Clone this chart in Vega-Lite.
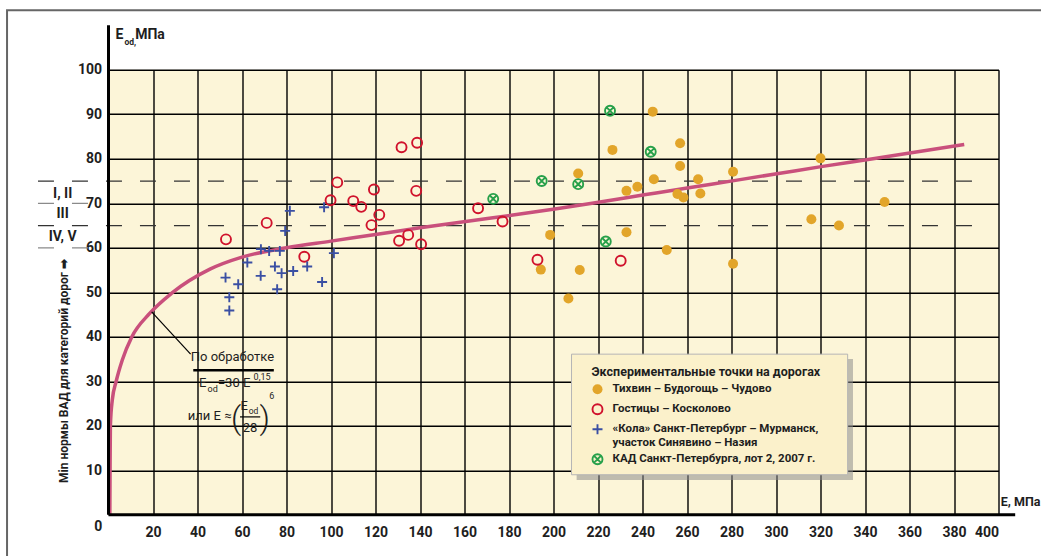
{
  "$schema": "https://vega.github.io/schema/vega-lite/v6.json",
  "width": 890,
  "height": 445,
  "autosize": {"type": "none"},
  "padding": {"left": 108.5, "top": 69.8, "right": 42.5, "bottom": 41.2},
  "background": "#ffffff",
  "config": {
    "view": {"fill": "#fcf5d8", "stroke": null},
    "font": "Roboto, Liberation Sans, sans-serif",
    "legend": {
      "orient": "none",
      "legendX": 483,
      "legendY": 296,
      "padding": 0,
      "titleFontSize": 12.5,
      "titleFontWeight": "bold",
      "titleColor": "#1e1e1e",
      "titlePadding": 5,
      "titleLimit": 500,
      "labelFontSize": 11.5,
      "labelFontWeight": "bold",
      "labelColor": "#1e1e1e",
      "labelOffset": 9,
      "labelLimit": 400,
      "rowPadding": 2,
      "symbolStrokeWidth": 1.9,
      "symbolSize": 100
    }
  },
  "layer": [
    {
      "data": {"values": [{}]},
      "mark": {"type": "rect", "fillOpacity": 0, "stroke": "#666666", "strokeWidth": 2},
      "encoding": {
        "x": {"datum": -45.6, "type": "quantitative", "scale": {"domain": [0, 400], "nice": false, "zero": false}},
        "x2": {"datum": 440},
        "y": {"datum": 113.4, "type": "quantitative", "scale": {"domain": [0, 100], "nice": false, "zero": false}},
        "y2": {"datum": -15}
      }
    },
    {
      "data": {"values": [{"v": 75}, {"v": 65}]},
      "mark": {"type": "rule", "color": "#333333", "strokeWidth": 1.3, "strokeDash": [16, 18]},
      "encoding": {
        "x": {"datum": -31.7, "type": "quantitative", "scale": {"domain": [0, 400], "nice": false, "zero": false}},
        "x2": {"datum": 396},
        "y": {"field": "v", "type": "quantitative", "scale": {"domain": [0, 100], "nice": false, "zero": false}}
      }
    },
    {
      "data": {"values": [{"v": 70}, {"v": 60}]},
      "mark": {"type": "rule", "color": "#8a8a8a", "strokeWidth": 1.3, "strokeDash": [16, 18]},
      "encoding": {
        "x": {"datum": -31.7, "type": "quantitative", "scale": {"domain": [0, 400], "nice": false, "zero": false}},
        "x2": {"datum": -8.5},
        "y": {"field": "v", "type": "quantitative", "scale": {"domain": [0, 100], "nice": false, "zero": false}}
      }
    },
    {
      "data": {"values": [
        {"E": 0.6, "V": 0}, {"E": 0.7, "V": 10}, {"E": 0.85, "V": 20}, {"E": 1.7, "V": 25.8},
        {"E": 3.4, "V": 29.9}, {"E": 6.2, "V": 34.8}, {"E": 10.4, "V": 39.9}, {"E": 18.6, "V": 45.3},
        {"E": 28.4, "V": 49.8}, {"E": 45.6, "V": 55.2}, {"E": 60, "V": 57.9},
        {"E": 80, "V": 60.0}, {"E": 100, "V": 61.5}, {"E": 120, "V": 63.0}, {"E": 140, "V": 64.5},
        {"E": 163, "V": 66.1}, {"E": 181, "V": 67.3}, {"E": 200.6, "V": 68.7}, {"E": 220.9, "V": 70.3},
        {"E": 240.8, "V": 71.9}, {"E": 260.8, "V": 73.5}, {"E": 281.1, "V": 75.1}, {"E": 301.1, "V": 76.7},
        {"E": 321, "V": 78.3}, {"E": 343.6, "V": 80.0}, {"E": 384.6, "V": 83.2}
      ]},
      "mark": {"type": "line", "color": "#c9507c", "strokeWidth": 3.5, "interpolate": "monotone"},
      "encoding": {
        "x": {"field": "E", "type": "quantitative", "scale": {"domain": [0, 400], "nice": false, "zero": false},
          "axis": {"values": [0, 20, 40, 60, 80, 100, 120, 140, 160, 180, 200, 220, 240, 260, 280, 300, 320, 340, 360, 380, 400],
            "labelExpr": "datum.value == 0 ? '' : datum.label", "grid": true, "gridColor": "#000000", "gridWidth": 1.4, "gridOpacity": 1,
            "domain": false, "ticks": false, "labelPadding": 11, "labelFontSize": 14, "labelFontWeight": "bold", "labelColor": "#1e1e1e", "title": null}},
        "y": {"field": "V", "type": "quantitative", "scale": {"domain": [0, 100], "nice": false, "zero": false},
          "axis": {"values": [0, 10, 20, 30, 40, 50, 60, 70, 80, 90, 100],
            "labelExpr": "datum.value == 0 ? '' : datum.label", "grid": true, "gridColor": "#000000", "gridWidth": 1.4, "gridOpacity": 1,
            "domain": false, "ticks": false, "labelPadding": 7, "labelFontSize": 14, "labelFontWeight": "bold", "labelColor": "#1e1e1e", "title": null}}
      }
    },
    {
      "data": {"values": [
        {"s": "T", "E": 244.6, "V": 90.6}, {"s": "T", "E": 226.5, "V": 82.0}, {"s": "T", "E": 256.9, "V": 83.5}, {"s": "T", "E": 256.9, "V": 78.4},
        {"s": "T", "E": 211.1, "V": 76.7}, {"s": "T", "E": 280.7, "V": 77.1}, {"s": "T", "E": 245.1, "V": 75.4}, {"s": "T", "E": 265.0, "V": 75.4},
        {"s": "T", "E": 237.7, "V": 73.7}, {"s": "T", "E": 232.8, "V": 72.8}, {"s": "T", "E": 255.7, "V": 72.1}, {"s": "T", "E": 258.4, "V": 71.3},
        {"s": "T", "E": 266.0, "V": 72.2}, {"s": "T", "E": 198.5, "V": 62.9}, {"s": "T", "E": 232.8, "V": 63.5}, {"s": "T", "E": 250.9, "V": 59.5},
        {"s": "T", "E": 194.3, "V": 55.1}, {"s": "T", "E": 211.8, "V": 55.0}, {"s": "T", "E": 206.7, "V": 48.6}, {"s": "T", "E": 280.7, "V": 56.4},
        {"s": "T", "E": 320.0, "V": 80.1}, {"s": "T", "E": 315.9, "V": 66.4}, {"s": "T", "E": 328.3, "V": 65.0}, {"s": "T", "E": 348.8, "V": 70.3},
        {"s": "G", "E": 52.8, "V": 61.9}, {"s": "G", "E": 71.1, "V": 65.6}, {"s": "G", "E": 88.0, "V": 58.0}, {"s": "G", "E": 99.8, "V": 70.7},
        {"s": "G", "E": 110.0, "V": 70.5}, {"s": "G", "E": 131.7, "V": 82.6}, {"s": "G", "E": 138.7, "V": 83.6}, {"s": "G", "E": 102.8, "V": 74.7},
        {"s": "G", "E": 119.3, "V": 73.1}, {"s": "G", "E": 138.3, "V": 72.8}, {"s": "G", "E": 113.6, "V": 69.2}, {"s": "G", "E": 121.7, "V": 67.4},
        {"s": "G", "E": 118.2, "V": 65.1}, {"s": "G", "E": 166.1, "V": 68.9}, {"s": "G", "E": 134.7, "V": 62.9}, {"s": "G", "E": 130.6, "V": 61.6},
        {"s": "G", "E": 140.5, "V": 60.8}, {"s": "G", "E": 177.1, "V": 65.9}, {"s": "G", "E": 192.8, "V": 57.3}, {"s": "G", "E": 230.2, "V": 57.1},
        {"s": "K", "E": 81.5, "V": 68.3}, {"s": "K", "E": 79.4, "V": 63.8}, {"s": "K", "E": 96.9, "V": 69.1}, {"s": "K", "E": 68.5, "V": 59.7},
        {"s": "K", "E": 72.2, "V": 59.3}, {"s": "K", "E": 77.0, "V": 59.3}, {"s": "K", "E": 101.3, "V": 58.8}, {"s": "K", "E": 62.4, "V": 56.7},
        {"s": "K", "E": 74.8, "V": 55.8}, {"s": "K", "E": 77.8, "V": 54.3}, {"s": "K", "E": 83.0, "V": 54.8}, {"s": "K", "E": 89.3, "V": 55.8},
        {"s": "K", "E": 52.6, "V": 53.3}, {"s": "K", "E": 68.4, "V": 53.7}, {"s": "K", "E": 58.3, "V": 51.8}, {"s": "K", "E": 96.0, "V": 52.3},
        {"s": "K", "E": 75.8, "V": 50.7}, {"s": "K", "E": 54.3, "V": 48.9}, {"s": "K", "E": 54.3, "V": 45.9},
        {"s": "D", "E": 225.4, "V": 90.8}, {"s": "D", "E": 243.7, "V": 81.6}, {"s": "D", "E": 194.7, "V": 75.0}, {"s": "D", "E": 211.1, "V": 74.3},
        {"s": "D", "E": 172.9, "V": 71.0}, {"s": "D", "E": 223.5, "V": 61.4}
      ]},
      "mark": {"type": "point", "size": 100, "strokeWidth": 1.9, "opacity": 1},
      "encoding": {
        "x": {"field": "E", "type": "quantitative", "scale": {"domain": [0, 400], "nice": false, "zero": false}},
        "y": {"field": "V", "type": "quantitative", "scale": {"domain": [0, 100], "nice": false, "zero": false}},
        "fill": {"field": "s", "type": "nominal",
          "scale": {"domain": ["T", "G", "K", "D"], "range": ["#e2a52a", "transparent", "transparent", "transparent"]},
          "legend": {"title": "Экспериментальные точки на дорогах",
            "labelExpr": "datum.label == 'T' ? 'Тихвин – Будогощь – Чудово' : datum.label == 'G' ? 'Гостицы – Косколово' : datum.label == 'K' ? ['«Кола» Санкт-Петербург – Мурманск,', 'участок Синявино – Назия'] : 'КАД Санкт-Петербурга, лот 2, 2007 г.'"}},
        "stroke": {"field": "s", "type": "nominal",
          "scale": {"domain": ["T", "G", "K", "D"], "range": ["transparent", "#d0122c", "#3a4fa3", "#27a04a"]},
          "legend": {"title": "Экспериментальные точки на дорогах",
            "labelExpr": "datum.label == 'T' ? 'Тихвин – Будогощь – Чудово' : datum.label == 'G' ? 'Гостицы – Косколово' : datum.label == 'K' ? ['«Кола» Санкт-Петербург – Мурманск,', 'участок Синявино – Назия'] : 'КАД Санкт-Петербурга, лот 2, 2007 г.'"}},
        "shape": {"field": "s", "type": "nominal",
          "scale": {"domain": ["T", "G", "K", "D"], "range": ["circle", "circle", "M-1,0L1,0M0,-1L0,1", "M-1,0A1,1,0,1,1,1,0A1,1,0,1,1,-1,0ZM-0.62,-0.62L0.62,0.62M-0.62,0.62L0.62,-0.62"]},
          "legend": {"title": "Экспериментальные точки на дорогах",
            "labelExpr": "datum.label == 'T' ? 'Тихвин – Будогощь – Чудово' : datum.label == 'G' ? 'Гостицы – Косколово' : datum.label == 'K' ? ['«Кола» Санкт-Петербург – Мурманск,', 'участок Синявино – Назия'] : 'КАД Санкт-Петербурга, лот 2, 2007 г.'"}}
      }
    },
    {
      "data": {"values": [{}]},
      "mark": {"type": "rect", "fill": "#8c8c8c", "opacity": 0.55},
      "encoding": {
        "x": {"datum": 210.4, "type": "quantitative", "scale": {"domain": [0, 400], "nice": false, "zero": false}},
        "x2": {"datum": 334.6},
        "y": {"datum": 35.0, "type": "quantitative", "scale": {"domain": [0, 100], "nice": false, "zero": false}},
        "y2": {"datum": 7.8}
      }
    },
    {
      "data": {"values": [{}]},
      "mark": {"type": "rect", "fill": "#fbf1cb", "stroke": "#b5b5b5", "strokeWidth": 1},
      "encoding": {
        "x": {"datum": 208.1, "type": "quantitative", "scale": {"domain": [0, 400], "nice": false, "zero": false}},
        "x2": {"datum": 332.2},
        "y": {"datum": 36.1, "type": "quantitative", "scale": {"domain": [0, 100], "nice": false, "zero": false}},
        "y2": {"datum": 9.0}
      }
    },
    {
      "data": {"values": [{}]},
      "mark": {"type": "rule", "color": "#000000", "strokeWidth": 1.2},
      "encoding": {
        "x": {"datum": 19.4, "type": "quantitative", "scale": {"domain": [0, 400], "nice": false, "zero": false}},
        "x2": {"datum": 36.9},
        "y": {"datum": 45.6, "type": "quantitative", "scale": {"domain": [0, 100], "nice": false, "zero": false}},
        "y2": {"datum": 36.1}
      }
    },
    {
      "data": {"values": [{}]},
      "mark": {"type": "rule", "color": "#000000", "strokeWidth": 2.5},
      "encoding": {
        "x": {"datum": 38.1, "type": "quantitative", "scale": {"domain": [0, 400], "nice": false, "zero": false}},
        "x2": {"datum": 74.3},
        "y": {"datum": 32.5, "type": "quantitative", "scale": {"domain": [0, 100], "nice": false, "zero": false}}
      }
    },
    {
      "data": {"values": [{}]},
      "mark": {"type": "rule", "color": "#000000", "strokeWidth": 1.2},
      "encoding": {
        "x": {"datum": 59.1, "type": "quantitative", "scale": {"domain": [0, 400], "nice": false, "zero": false}},
        "x2": {"datum": 68.2},
        "y": {"datum": 22.0, "type": "quantitative", "scale": {"domain": [0, 100], "nice": false, "zero": false}}
      }
    },
    {
      "data": {"values": [{}]},
      "mark": {"type": "rule", "color": "#000000", "strokeWidth": 3},
      "encoding": {
        "x": {"datum": 0, "type": "quantitative", "scale": {"domain": [0, 400], "nice": false, "zero": false}},
        "x2": {"datum": 407.5},
        "y": {"datum": 0, "type": "quantitative", "scale": {"domain": [0, 100], "nice": false, "zero": false}}
      }
    },
    {
      "data": {"values": [{}]},
      "mark": {"type": "rule", "color": "#000000", "strokeWidth": 3},
      "encoding": {
        "x": {"datum": 0, "type": "quantitative", "scale": {"domain": [0, 400], "nice": false, "zero": false}},
        "y": {"datum": 0, "type": "quantitative", "scale": {"domain": [0, 100], "nice": false, "zero": false}},
        "y2": {"datum": 110}
      }
    },
    {
      "data": {"values": [{}]},
      "mark": {"type": "text", "text": "E", "fontSize": 14, "fontWeight": "bold", "align": "left", "baseline": "middle", "color": "#1e1e1e"},
      "encoding": {
        "x": {"datum": 3.1, "type": "quantitative", "scale": {"domain": [0, 400], "nice": false, "zero": false}},
        "y": {"datum": 107.8, "type": "quantitative", "scale": {"domain": [0, 100], "nice": false, "zero": false}}
      }
    },
    {
      "data": {"values": [{}]},
      "mark": {"type": "text", "text": "od,", "fontSize": 8.5, "fontWeight": "bold", "align": "left", "baseline": "middle", "color": "#1e1e1e"},
      "encoding": {
        "x": {"datum": 7.2, "type": "quantitative", "scale": {"domain": [0, 400], "nice": false, "zero": false}},
        "y": {"datum": 106.2, "type": "quantitative", "scale": {"domain": [0, 100], "nice": false, "zero": false}}
      }
    },
    {
      "data": {"values": [{}]},
      "mark": {"type": "text", "text": "МПа", "fontSize": 14, "fontWeight": "bold", "align": "left", "baseline": "middle", "color": "#1e1e1e"},
      "encoding": {
        "x": {"datum": 12.0, "type": "quantitative", "scale": {"domain": [0, 400], "nice": false, "zero": false}},
        "y": {"datum": 107.8, "type": "quantitative", "scale": {"domain": [0, 100], "nice": false, "zero": false}}
      }
    },
    {
      "data": {"values": [{}]},
      "mark": {"type": "text", "text": "E, МПа", "fontSize": 12.5, "fontWeight": "bold", "align": "left", "baseline": "middle", "color": "#1e1e1e"},
      "encoding": {
        "x": {"datum": 401.0, "type": "quantitative", "scale": {"domain": [0, 400], "nice": false, "zero": false}},
        "y": {"datum": 2.9, "type": "quantitative", "scale": {"domain": [0, 100], "nice": false, "zero": false}}
      }
    },
    {
      "data": {"values": [{}]},
      "mark": {"type": "text", "text": "0", "fontSize": 14, "fontWeight": "bold", "align": "center", "baseline": "middle", "color": "#1e1e1e"},
      "encoding": {
        "x": {"datum": -4.6, "type": "quantitative", "scale": {"domain": [0, 400], "nice": false, "zero": false}},
        "y": {"datum": -2.7, "type": "quantitative", "scale": {"domain": [0, 100], "nice": false, "zero": false}}
      }
    },
    {
      "data": {"values": [{}]},
      "mark": {"type": "text", "text": "I, II", "fontSize": 14, "fontWeight": "bold", "align": "center", "baseline": "middle", "color": "#1e1e1e"},
      "encoding": {
        "x": {"datum": -20.6, "type": "quantitative", "scale": {"domain": [0, 400], "nice": false, "zero": false}},
        "y": {"datum": 72.0, "type": "quantitative", "scale": {"domain": [0, 100], "nice": false, "zero": false}}
      }
    },
    {
      "data": {"values": [{}]},
      "mark": {"type": "text", "text": "III", "fontSize": 14, "fontWeight": "bold", "align": "center", "baseline": "middle", "color": "#1e1e1e"},
      "encoding": {
        "x": {"datum": -20.6, "type": "quantitative", "scale": {"domain": [0, 400], "nice": false, "zero": false}},
        "y": {"datum": 67.5, "type": "quantitative", "scale": {"domain": [0, 100], "nice": false, "zero": false}}
      }
    },
    {
      "data": {"values": [{}]},
      "mark": {"type": "text", "text": "IV, V", "fontSize": 14, "fontWeight": "bold", "align": "center", "baseline": "middle", "color": "#1e1e1e"},
      "encoding": {
        "x": {"datum": -20.6, "type": "quantitative", "scale": {"domain": [0, 400], "nice": false, "zero": false}},
        "y": {"datum": 62.4, "type": "quantitative", "scale": {"domain": [0, 100], "nice": false, "zero": false}}
      }
    },
    {
      "data": {"values": [{}]},
      "mark": {"type": "text", "text": "Min нормы ВАД для категорий дорог  ➡", "fontSize": 12, "fontWeight": "bold", "align": "center", "baseline": "middle", "angle": 270, "color": "#1e1e1e"},
      "encoding": {
        "x": {"datum": -20.0, "type": "quantitative", "scale": {"domain": [0, 400], "nice": false, "zero": false}},
        "y": {"datum": 32.3, "type": "quantitative", "scale": {"domain": [0, 100], "nice": false, "zero": false}}
      }
    },
    {
      "data": {"values": [{}]},
      "mark": {"type": "text", "text": "По обработке", "fontSize": 13, "align": "center", "baseline": "middle", "color": "#1e1e1e"},
      "encoding": {
        "x": {"datum": 55.7, "type": "quantitative", "scale": {"domain": [0, 400], "nice": false, "zero": false}},
        "y": {"datum": 35.5, "type": "quantitative", "scale": {"domain": [0, 100], "nice": false, "zero": false}}
      }
    },
    {
      "data": {"values": [{}]},
      "mark": {"type": "text", "text": "E", "fontSize": 13, "align": "left", "baseline": "middle", "color": "#1e1e1e"},
      "encoding": {
        "x": {"datum": 40.7, "type": "quantitative", "scale": {"domain": [0, 400], "nice": false, "zero": false}},
        "y": {"datum": 29.6, "type": "quantitative", "scale": {"domain": [0, 100], "nice": false, "zero": false}}
      }
    },
    {
      "data": {"values": [{}]},
      "mark": {"type": "text", "text": "od", "fontSize": 9, "align": "left", "baseline": "middle", "color": "#1e1e1e"},
      "encoding": {
        "x": {"datum": 44.5, "type": "quantitative", "scale": {"domain": [0, 400], "nice": false, "zero": false}},
        "y": {"datum": 28.3, "type": "quantitative", "scale": {"domain": [0, 100], "nice": false, "zero": false}}
      }
    },
    {
      "data": {"values": [{}]},
      "mark": {"type": "text", "text": "=30·E", "fontSize": 13, "align": "left", "baseline": "middle", "color": "#1e1e1e"},
      "encoding": {
        "x": {"datum": 49.2, "type": "quantitative", "scale": {"domain": [0, 400], "nice": false, "zero": false}},
        "y": {"datum": 29.6, "type": "quantitative", "scale": {"domain": [0, 100], "nice": false, "zero": false}}
      }
    },
    {
      "data": {"values": [{}]},
      "mark": {"type": "text", "text": "0,15", "fontSize": 9, "align": "left", "baseline": "middle", "color": "#1e1e1e"},
      "encoding": {
        "x": {"datum": 65.2, "type": "quantitative", "scale": {"domain": [0, 400], "nice": false, "zero": false}},
        "y": {"datum": 31.0, "type": "quantitative", "scale": {"domain": [0, 100], "nice": false, "zero": false}}
      }
    },
    {
      "data": {"values": [{}]},
      "mark": {"type": "text", "text": "или E ≈", "fontSize": 13, "align": "right", "baseline": "middle", "color": "#1e1e1e"},
      "encoding": {
        "x": {"datum": 55.3, "type": "quantitative", "scale": {"domain": [0, 400], "nice": false, "zero": false}},
        "y": {"datum": 22.2, "type": "quantitative", "scale": {"domain": [0, 100], "nice": false, "zero": false}}
      }
    },
    {
      "data": {"values": [{}]},
      "mark": {"type": "text", "text": "(", "fontSize": 32, "fontWeight": 300, "align": "center", "baseline": "middle", "color": "#1e1e1e"},
      "encoding": {
        "x": {"datum": 57.3, "type": "quantitative", "scale": {"domain": [0, 400], "nice": false, "zero": false}},
        "y": {"datum": 21.6, "type": "quantitative", "scale": {"domain": [0, 100], "nice": false, "zero": false}}
      }
    },
    {
      "data": {"values": [{}]},
      "mark": {"type": "text", "text": ")", "fontSize": 32, "fontWeight": 300, "align": "center", "baseline": "middle", "color": "#1e1e1e"},
      "encoding": {
        "x": {"datum": 70.2, "type": "quantitative", "scale": {"domain": [0, 400], "nice": false, "zero": false}},
        "y": {"datum": 21.6, "type": "quantitative", "scale": {"domain": [0, 100], "nice": false, "zero": false}}
      }
    },
    {
      "data": {"values": [{}]},
      "mark": {"type": "text", "text": "E", "fontSize": 13, "align": "left", "baseline": "middle", "color": "#1e1e1e"},
      "encoding": {
        "x": {"datum": 59.3, "type": "quantitative", "scale": {"domain": [0, 400], "nice": false, "zero": false}},
        "y": {"datum": 24.4, "type": "quantitative", "scale": {"domain": [0, 100], "nice": false, "zero": false}}
      }
    },
    {
      "data": {"values": [{}]},
      "mark": {"type": "text", "text": "od", "fontSize": 8.5, "align": "left", "baseline": "middle", "color": "#1e1e1e"},
      "encoding": {
        "x": {"datum": 63.0, "type": "quantitative", "scale": {"domain": [0, 400], "nice": false, "zero": false}},
        "y": {"datum": 23.3, "type": "quantitative", "scale": {"domain": [0, 100], "nice": false, "zero": false}}
      }
    },
    {
      "data": {"values": [{}]},
      "mark": {"type": "text", "text": "28", "fontSize": 13, "align": "center", "baseline": "middle", "color": "#1e1e1e"},
      "encoding": {
        "x": {"datum": 63.6, "type": "quantitative", "scale": {"domain": [0, 400], "nice": false, "zero": false}},
        "y": {"datum": 19.6, "type": "quantitative", "scale": {"domain": [0, 100], "nice": false, "zero": false}}
      }
    },
    {
      "data": {"values": [{}]},
      "mark": {"type": "text", "text": "6", "fontSize": 9, "align": "left", "baseline": "middle", "color": "#1e1e1e"},
      "encoding": {
        "x": {"datum": 72.3, "type": "quantitative", "scale": {"domain": [0, 400], "nice": false, "zero": false}},
        "y": {"datum": 26.7, "type": "quantitative", "scale": {"domain": [0, 100], "nice": false, "zero": false}}
      }
    }
  ]
}
